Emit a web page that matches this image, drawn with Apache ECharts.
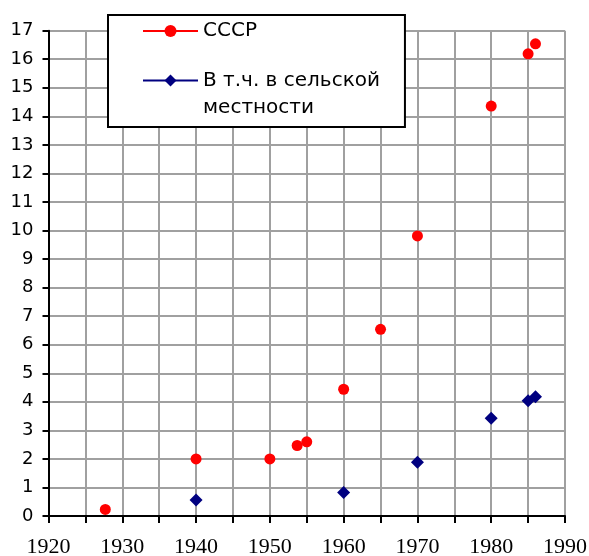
<!DOCTYPE html>
<html><head><meta charset="utf-8">
<script src="https://cdn.jsdelivr.net/npm/echarts@6/dist/echarts.min.js"></script>
<style>html,body{margin:0;padding:0;background:#fff}#c{width:589px;height:556px}</style>
</head><body><div id="c"></div>
<script>
const seriesNames = ['СССР', 'В т.ч. в сельской\nместности'];
const ussrYears = [1927.7, 1940, 1950, 1953.7, 1955, 1960, 1965, 1970, 1980, 1985, 1986];
const ussrValues = [0.23, 2.0, 2.0, 2.47, 2.6, 4.44, 6.54, 9.81, 14.36, 16.19, 16.54];
const ruralYears = [1940, 1960, 1970, 1980, 1985, 1986];
const ruralValues = [0.56, 0.82, 1.88, 3.42, 4.04, 4.18];
const xTicks = [1920, 1930, 1940, 1950, 1960, 1970, 1980, 1990];
const yTicks = [0,1,2,3,4,5,6,7,8,9,10,11,12,13,14,15,16,17];

const chart = echarts.init(document.getElementById('c'), null, {renderer: 'canvas'});
const pair = (xs, ys) => xs.map((x, i) => [x, ys[i]]);
chart.setOption({
  animation: false,
  backgroundColor: '#fff',
  grid: {left: 48.5, top: 30.7, right: 24, bottom: 40, containLabel: false, outerBoundsMode: 'none'},
  xAxis: {
    type: 'value', min: xTicks[0], max: xTicks[xTicks.length - 1], interval: 5,
    axisLine: {show: true, onZero: false, lineStyle: {color: '#000', width: 2}},
    axisTick: {show: true, length: 7, lineStyle: {color: '#000', width: 2}},
    axisLabel: {
      margin: 20, fontSize: 22, fontFamily: 'Liberation Serif', color: '#000',
      formatter: v => xTicks.includes(v) ? String(v) : ''
    },
    splitLine: {show: true, lineStyle: {color: '#a0a0a0', width: 2}}
  },
  yAxis: {
    type: 'value', min: yTicks[0], max: yTicks[yTicks.length - 1], interval: 1,
    axisLine: {show: true, lineStyle: {color: '#000', width: 2}},
    axisTick: {show: true, length: 6, lineStyle: {color: '#000', width: 2}},
    axisLabel: {margin: 15, fontSize: 18, fontFamily: 'DejaVu Sans', color: '#000'},
    splitLine: {show: true, lineStyle: {color: '#a0a0a0', width: 2}}
  },
  legend: {
    orient: 'vertical', left: 108, top: 15,
    padding: [2.5, 25, 6, 34],
    itemGap: -4.5, itemWidth: 55, itemHeight: 15, itemTextGap: 6,
    backgroundColor: '#fff', borderColor: '#000', borderWidth: 2,
    textStyle: {fontSize: 20, lineHeight: 27, fontFamily: 'DejaVu Sans', color: '#000'},
    lineStyle: {opacity: 1, width: 2},
    formatter: n => n === seriesNames[1] ? '\n' + n : n,
    data: seriesNames
  },
  series: [
    {name: seriesNames[0], type: 'line', data: pair(ussrYears, ussrValues),
     symbol: 'circle', symbolSize: 11, color: '#ff0000',
     lineStyle: {opacity: 0, width: 2, color: '#ff0000'}, itemStyle: {color: '#ff0000'}},
    {name: seriesNames[1], type: 'line', data: pair(ruralYears, ruralValues),
     symbol: 'diamond', symbolSize: 13, color: '#000080',
     lineStyle: {opacity: 0, width: 2, color: '#000080'}, itemStyle: {color: '#000080'}}
  ]
});
</script></body></html>
